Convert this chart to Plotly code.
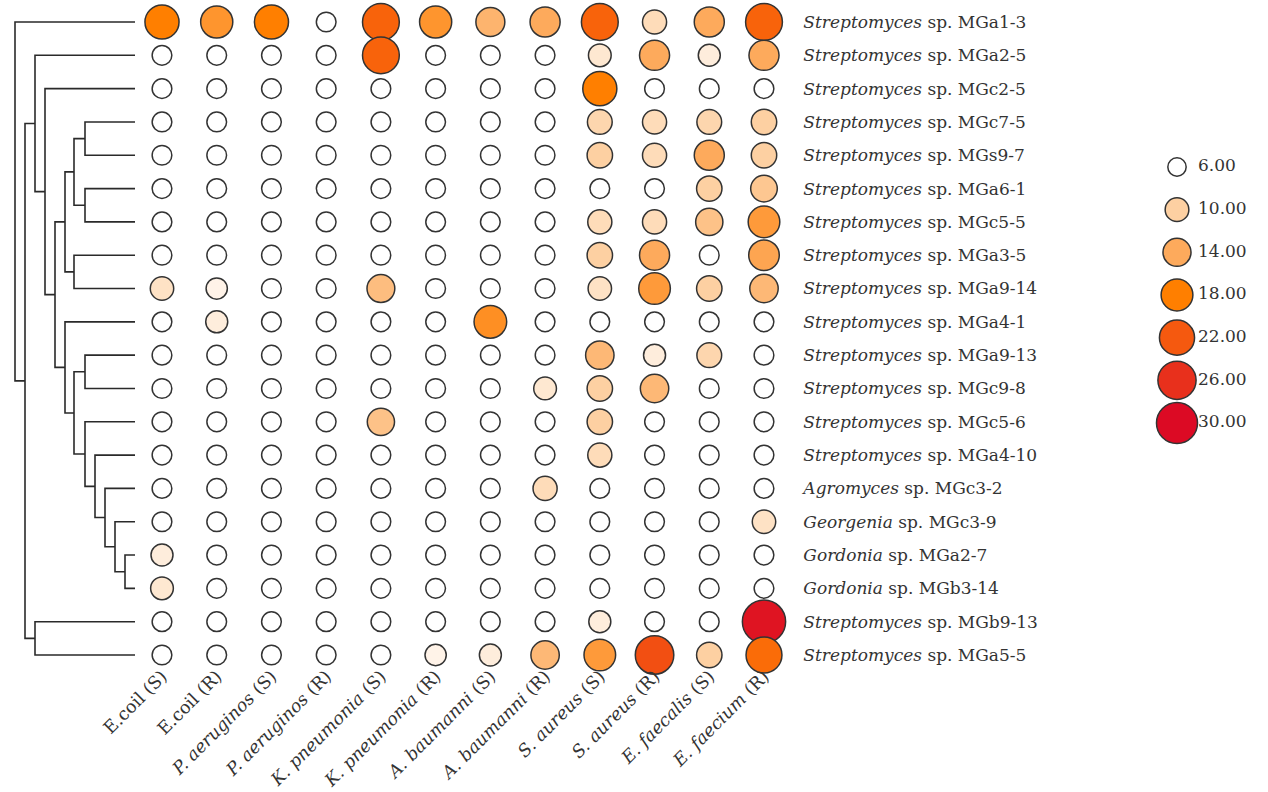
import plotly.graph_objects as go

# ---------------- data ----------------
genera = ["Streptomyces"] * 14 + ["Agromyces", "Georgenia", "Gordonia", "Gordonia",
                                  "Streptomyces", "Streptomyces"]
strains = ["MGa1-3", "MGa2-5", "MGc2-5", "MGc7-5", "MGs9-7", "MGa6-1", "MGc5-5",
           "MGa3-5", "MGa9-14", "MGa4-1", "MGa9-13", "MGc9-8", "MGc5-6", "MGa4-10",
           "MGc3-2", "MGc3-9", "MGa2-7", "MGb3-14", "MGb9-13", "MGa5-5"]

pathogens = ["E.coil", "E.coil", "P. aeruginos", "P. aeruginos", "K. pneumonia",
             "K. pneumonia", "A. baumanni", "A. baumanni", "S. aureus", "S. aureus",
             "E. faecalis", "E. faecium"]
pathogen_italic = [False, False, True, True, True, True, True, True, True, True, True, True]
phenotypes = ["S", "R", "S", "R", "S", "R", "S", "R", "S", "R", "S", "R"]

# inhibition-zone values (rows = strains, cols = pathogens)
zone = [
    [18, 16, 18, 6, 21, 16, 13, 14, 21, 9, 14, 21],
    [6, 6, 6, 6, 21, 6, 6, 6, 8, 14, 7.5, 14],
    [6, 6, 6, 6, 6, 6, 6, 6, 18, 6, 6, 6],
    [6, 6, 6, 6, 6, 6, 6, 6, 9.5, 9, 9.5, 10],
    [6, 6, 6, 6, 6, 6, 6, 6, 10, 9, 14, 10],
    [6, 6, 6, 6, 6, 6, 6, 6, 6, 6, 10, 11],
    [6, 6, 6, 6, 6, 6, 6, 6, 9, 9, 11.5, 15.5],
    [6, 6, 6, 6, 6, 6, 6, 6, 10, 14, 6, 14.5],
    [8.5, 7, 6, 6, 12, 6, 6, 6, 8.5, 15.5, 10, 12.5],
    [6, 7.5, 6, 6, 6, 6, 16.5, 6, 6, 6, 6, 6],
    [6, 6, 6, 6, 6, 6, 6, 6, 12.5, 7.5, 9.5, 6],
    [6, 6, 6, 6, 6, 6, 6, 8, 10, 12.5, 6, 6],
    [6, 6, 6, 6, 11.5, 6, 6, 6, 10, 6, 6, 6],
    [6, 6, 6, 6, 6, 6, 6, 6, 9, 6, 6, 6],
    [6, 6, 6, 6, 6, 6, 6, 9, 6, 6, 6, 6],
    [6, 6, 6, 6, 6, 6, 6, 6, 6, 6, 6, 8.5],
    [7.5, 6, 6, 6, 6, 6, 6, 6, 6, 6, 6, 6],
    [8, 6, 6, 6, 6, 6, 6, 6, 6, 6, 6, 6],
    [6, 6, 6, 6, 6, 6, 6, 6, 7.5, 6, 6, 29],
    [6, 6, 6, 6, 6, 7, 7.5, 12.5, 15.5, 23, 10, 20],
]

legend_values = [6, 10, 14, 18, 22, 26, 30]

# dendrogram merges: (child a, child b, merge height); leaves 0..19, new nodes 20..
linkage = [
    (16, 17, 10), (15, 20, 20), (14, 21, 30), (13, 22, 40), (12, 23, 50),
    (10, 11, 50), (25, 24, 61), (9, 26, 70),
    (3, 4, 50), (5, 6, 50), (28, 29, 61), (7, 8, 61), (30, 31, 70),
    (32, 27, 80), (2, 33, 90), (1, 34, 100), (18, 19, 100), (35, 36, 110),
    (0, 37, 120),
]

# ---------------- styling ----------------
W, H = 1268, 792
FONT = "DejaVu Serif"
TXT = "#333333"
colorscale = [
    [0.0, "#ffffff"],
    [(10 - 6) / 24, "#fdd0a2"],
    [(14 - 6) / 24, "#fdaa5c"],
    [(18 - 6) / 24, "#ff7f00"],
    [(22 - 6) / 24, "#f5590f"],
    [(26 - 6) / 24, "#e8301c"],
    [1.0, "#dc0a24"],
]
VMIN, VMAX = 6, 30
DMAX = 44
sizeref = 2.0 * VMAX / DMAX ** 2

row_labels = [f"<i>{g}</i> sp. {s}" for g, s in zip(genera, strains)]
col_keys = [f"{p} ({r})" for p, r in zip(pathogens, phenotypes)]
col_text = [(f"<i>{p}</i> ({r})" if it else f"{p} ({r})")
            for p, r, it in zip(pathogens, phenotypes, pathogen_italic)]

nrow, ncol = len(row_labels), len(col_keys)

# pixel layout helpers
col0_px, colN_px = 162, 764
row0_px, rowN_px = 22, 655
dx = (colN_px - col0_px) / (ncol - 1)
dy = (rowN_px - row0_px) / (nrow - 1)
xdom = [(col0_px - dx / 2) / W, (colN_px + dx / 2) / W]
ydom = [1 - (rowN_px + dy / 2) / H, 1 - (row0_px - dy / 2) / H]

fig = go.Figure()

# ---- dendrogram ----
node_y = list(range(nrow))
node_h = [0] * nrow
dxs, dys = [], []
for a, b, h in linkage:
    ya, yb = node_y[a], node_y[b]
    dxs += [node_h[a], h, h, node_h[b], None]
    dys += [ya, ya, yb, yb, None]
    node_y.append((ya + yb) / 2)
    node_h.append(h)
fig.add_trace(go.Scatter(x=dxs, y=dys, mode="lines", xaxis="x2", yaxis="y2",
                         line=dict(color="#2a2a2a", width=1.6), hoverinfo="skip",
                         showlegend=False))

# ---- bubbles ----
bx, by, bv = [], [], []
for i, r in enumerate(row_labels):
    for j, c in enumerate(col_keys):
        bx.append(c)
        by.append(r)
        bv.append(zone[i][j])
fig.add_trace(go.Scatter(
    x=bx, y=by, mode="markers", cliponaxis=False, showlegend=False,
    marker=dict(size=bv, sizemode="area", sizeref=sizeref, color=bv,
                colorscale=colorscale, cmin=VMIN, cmax=VMAX,
                line=dict(color="#333333", width=1.5), opacity=1),
))

# ---- size/colour legend ----
leg_labels = [f"{v:.2f}" for v in legend_values]
fig.add_trace(go.Scatter(
    x=[27] * len(legend_values), y=leg_labels, mode="markers", xaxis="x3", yaxis="y3",
    cliponaxis=False, showlegend=False,
    marker=dict(size=legend_values, sizemode="area", sizeref=sizeref * 1.15,
                color=legend_values, colorscale=colorscale, cmin=VMIN, cmax=VMAX,
                line=dict(color="#333333", width=1.5), opacity=1),
))
fig.add_trace(go.Scatter(
    x=[48] * len(legend_values), y=leg_labels, mode="text", text=leg_labels,
    textposition="middle right", xaxis="x3", yaxis="y3", cliponaxis=False,
    showlegend=False, textfont=dict(family=FONT, size=17, color=TXT),
))

ly0_px, lyN_px = 167, 423
ldy = (lyN_px - ly0_px) / (len(legend_values) - 1)
lydom = [1 - (lyN_px + ldy / 2) / H, 1 - (ly0_px - ldy / 2) / H]

fig.update_layout(
    width=W, height=H, margin=dict(l=0, r=0, t=0, b=0),
    paper_bgcolor="white", plot_bgcolor="white",
    font=dict(family=FONT, size=17, color=TXT),
    xaxis=dict(domain=xdom, type="category", categoryorder="array", categoryarray=col_keys,
               range=[-0.5, ncol - 0.5], tickvals=col_keys, ticktext=col_text,
               tickangle=-45, showgrid=False, zeroline=False, showline=False,
               tickfont=dict(family=FONT, size=17.5, color=TXT),
               ticks="", anchor="y", automargin=False, ticklabelstandoff=-10),
    yaxis=dict(domain=ydom, type="category", categoryorder="array", categoryarray=row_labels,
               range=[nrow - 0.5, -0.5], side="right", showgrid=False, zeroline=False,
               showline=False, ticks="", anchor="x", automargin=False,
               ticklabelstandoff=11),
    xaxis2=dict(domain=[0, 135 / W], range=[135, 0], visible=False, anchor="y2"),
    yaxis2=dict(domain=ydom, range=[nrow - 0.5, -0.5], visible=False, anchor="x2"),
    xaxis3=dict(domain=[1150 / W, 1], range=[0, 118], visible=False, anchor="y3"),
    yaxis3=dict(domain=lydom, type="category", categoryorder="array",
                categoryarray=leg_labels, range=[len(leg_labels) - 0.5, -0.5],
                visible=False, anchor="x3"),
)

fig.write_html("out.html", config={"displayModeBar": False},
               post_script="document.body.style.margin='0';"
                           "document.body.style.overflow='hidden';")
